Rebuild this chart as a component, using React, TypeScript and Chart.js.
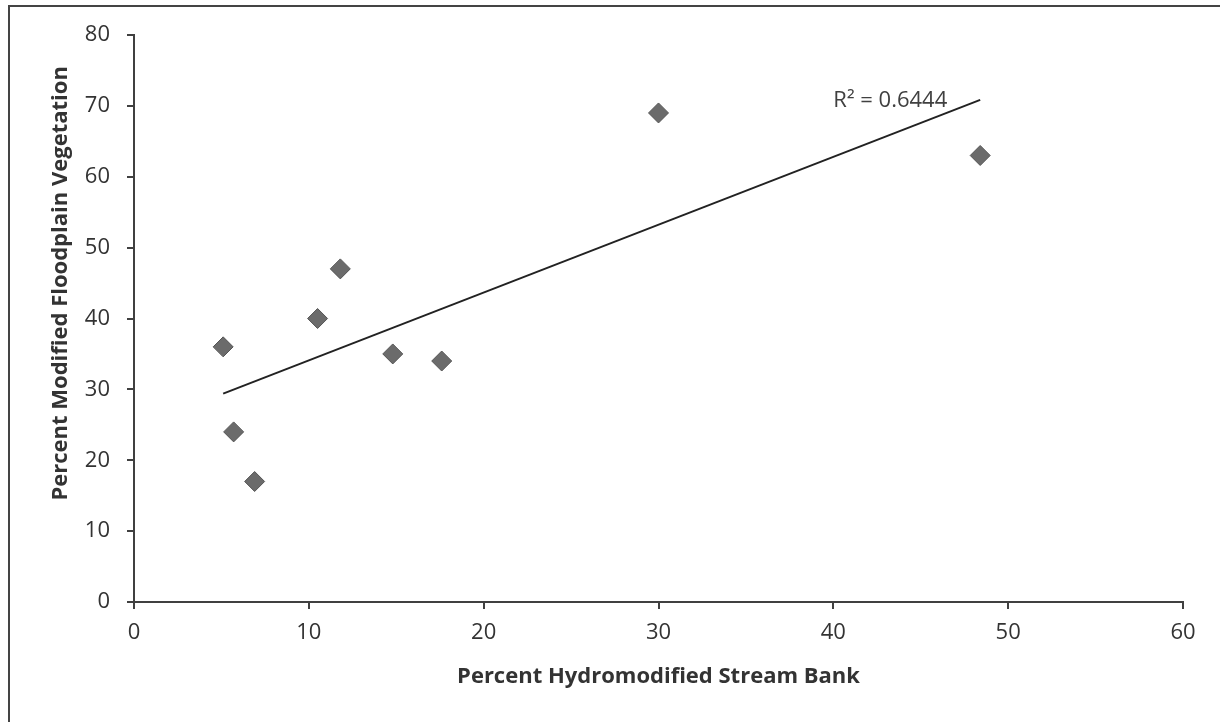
import React, { useEffect, useRef } from "react";
import { Chart, registerables } from "chart.js";

Chart.register(...registerables);

// Data
const bankPercent = [5.1, 5.7, 6.9, 10.5, 11.8, 14.8, 17.6, 30.0, 48.4];
const vegetationPercent = [36, 24, 17, 40, 47, 35, 34, 69, 63];
const xTicks = [0, 10, 20, 30, 40, 50, 60];
const yTicks = [0, 10, 20, 30, 40, 50, 60, 70, 80];
const xTitle = "Percent Hydromodified Stream Bank";
const yTitle = "Percent Modified Floodplain Vegetation";
const r2Label = "R² = 0.6444";

const FONT = "'Open Sans', 'DejaVu Sans', sans-serif";

function linearFit(xs: number[], ys: number[]) {
  const n = xs.length;
  const mx = xs.reduce((a, b) => a + b, 0) / n;
  const my = ys.reduce((a, b) => a + b, 0) / n;
  let sxy = 0, sxx = 0;
  for (let i = 0; i < n; i++) {
    sxy += (xs[i] - mx) * (ys[i] - my);
    sxx += (xs[i] - mx) * (xs[i] - mx);
  }
  const slope = sxy / sxx;
  return { slope, intercept: my - slope * mx };
}

export default function App() {
  const ref = useRef<HTMLCanvasElement | null>(null);

  useEffect(() => {
    if (!ref.current) return;
    const fit = linearFit(bankPercent, vegetationPercent);
    const xMin = Math.min(...bankPercent);
    const xMax = Math.max(...bankPercent);
    const trend = [
      { x: xMin, y: fit.slope * xMin + fit.intercept },
      { x: xMax, y: fit.slope * xMax + fit.intercept },
    ];
    const points = bankPercent.map((x, i) => ({ x, y: vegetationPercent[i] }));

    const labelPlugin = {
      id: "r2label",
      afterDatasetsDraw(chart: any) {
        const { ctx, scales, chartArea } = chart;
        const px = scales.x.getPixelForValue(40.0);
        const py = scales.y.getPixelForValue(70.7);
        ctx.save();
        ctx.font = `22px ${FONT}`;
        ctx.fillStyle = "#404040";
        ctx.textAlign = "left";
        ctx.textBaseline = "middle";
        ctx.fillText(r2Label, px, py);
        ctx.restore();

        // y-axis title (positioned as in the reference, above the plot centre)
        ctx.save();
        ctx.translate(61, chartArea.top + (chartArea.bottom - chartArea.top) * 0.438);
        ctx.rotate(-Math.PI / 2);
        ctx.font = `bold 22px ${FONT}`;
        ctx.fillStyle = "#333333";
        ctx.textAlign = "center";
        ctx.textBaseline = "middle";
        ctx.fillText(yTitle, 0, 0);
        ctx.restore();
      },
    };

    const axisColor = "#404040";
    const chart = new Chart(ref.current, {
      type: "scatter",
      data: {
        datasets: [
          {
            type: "line",
            data: trend,
            borderColor: "#222222",
            borderWidth: 2,
            pointRadius: 0,
            fill: false,
            order: 0,
          } as any,
          {
            data: points,
            pointStyle: "rectRot",
            pointRadius: 10,
            pointHoverRadius: 10,
            backgroundColor: "#6b6b6b",
            borderColor: "#555555",
            borderWidth: 1,
            order: 1,
          },
        ],
      },
      plugins: [labelPlugin],
      options: {
        responsive: false,
        animation: false,
        layout: { padding: { top: 35, right: 37, bottom: 0, left: 0 } },
        plugins: { legend: { display: false }, tooltip: { enabled: false } },
        scales: {
          x: {
            type: "linear",
            min: 0,
            max: 60,
            afterFit: (s: any) => { s.height = 120; },
            afterBuildTicks: (s: any) => { s.ticks = xTicks.map((v) => ({ value: v })); },
            grid: { drawOnChartArea: false, drawTicks: true, tickLength: 7, color: axisColor, lineWidth: 2 },
            border: { display: true, color: axisColor, width: 2 },
            ticks: { color: "#333333", font: { family: FONT, size: 22 }, padding: 11 },
            title: {
              display: true,
              text: xTitle,
              color: "#333333",
              font: { family: FONT, size: 22, weight: "bold" },
              padding: { top: 0, bottom: 32 },
            },
          },
          y: {
            type: "linear",
            min: 0,
            max: 80,
            afterFit: (s: any) => { s.width = 134; },
            afterBuildTicks: (s: any) => { s.ticks = yTicks.map((v) => ({ value: v })); },
            grid: { drawOnChartArea: false, drawTicks: true, tickLength: 7, color: axisColor, lineWidth: 2 },
            border: { display: true, color: axisColor, width: 2 },
            ticks: { color: "#333333", font: { family: FONT, size: 22 }, padding: 17 },
            title: { display: false, text: yTitle },
          },
        },
      },
    } as any);
    return () => chart.destroy();
  }, []);

  return (
    <div style={{ position: "fixed", left: 0, top: 0, width: 1220, height: 722, background: "#ffffff", overflow: "hidden" }}>
      <div
        style={{
          position: "absolute",
          left: 8,
          top: 5,
          right: -4,
          bottom: -4,
          borderTop: "2px solid #444",
          borderLeft: "2px solid #444",
        }}
      />
      <canvas ref={ref} width={1220} height={722} style={{ position: "absolute", left: 0, top: 0, width: 1220, height: 722 }} />
    </div>
  );
}
